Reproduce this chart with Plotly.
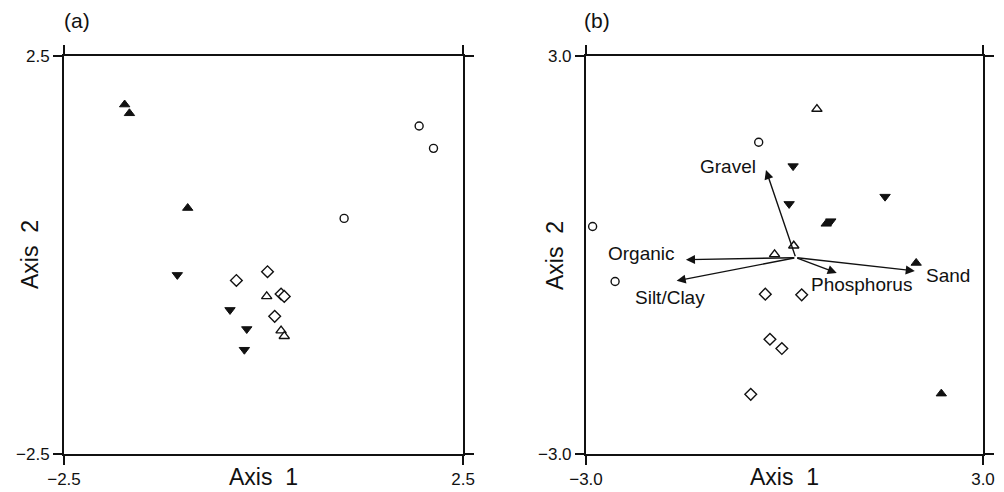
import plotly.graph_objects as go

# ---------------- Panel (a) data ----------------
a_up_filled_x = [-1.74, -1.68, -0.95]
a_up_filled_y = [1.89, 1.78, 0.59]
a_circle_x = [1.95, 2.13, 1.01]
a_circle_y = [1.62, 1.34, 0.46]
a_down_filled_x = [-1.08, -0.42, -0.21, -0.24]
a_down_filled_y = [-0.25, -0.69, -0.93, -1.19]
a_diamond_x = [-0.34, 0.05, 0.22, 0.26, 0.14]
a_diamond_y = [-0.32, -0.21, -0.49, -0.52, -0.77]
a_up_open_x = [0.04, 0.22, 0.26]
a_up_open_y = [-0.52, -0.95, -1.02]

# ---------------- Panel (b) data ----------------
b_up_open_x = [0.49, 0.14, -0.15]
b_up_open_y = [2.20, 0.14, 0.01]
b_circle_x = [-0.39, -2.90, -2.56]
b_circle_y = [1.70, 0.43, -0.40]
b_down_filled_x = [0.13, 0.07, 1.52, 0.70]
b_down_filled_y = [1.34, 0.77, 0.88, 0.51]
b_up_filled_x = [0.63, 1.99, 2.37]
b_up_filled_y = [0.47, -0.12, -2.09]
b_diamond_x = [-0.29, 0.26, -0.22, -0.04, -0.51]
b_diamond_y = [-0.59, -0.60, -1.27, -1.41, -2.10]

# environmental vectors (biplot arrows)
vec_names = ["Gravel", "Organic", "Silt/Clay", "Phosphorus", "Sand"]
vec_origin_x = 0.17
vec_origin_y = -0.04
vec_tip_x = [-0.28, -1.49, -1.63, 0.79, 1.97]
vec_tip_y = [1.28, -0.07, -0.39, -0.27, -0.24]

# axis ranges / tick labels
a_range = [-2.5, 2.5]
a_ticktext = ["\u22122.5", "2.5"]
b_range = [-3.0, 3.0]
b_ticktext = ["\u22123.0", "3.0"]

FONT = "Liberation Sans"
BLACK = "#111111"

fig = go.Figure()

def add_points(x, y, symbol, filled, size, xa, ya):
    fig.add_trace(go.Scatter(
        x=x, y=y, mode="markers", xaxis=xa, yaxis=ya, showlegend=False,
        marker=dict(symbol=symbol, size=size,
                    color=BLACK if filled else "white",
                    line=dict(color=BLACK, width=1.0 if filled else 1.4)),
        hoverinfo="skip"))

# panel a
add_points(a_up_filled_x, a_up_filled_y, "triangle-up", True, 9, "x", "y")
add_points(a_circle_x, a_circle_y, "circle", False, 8, "x", "y")
add_points(a_down_filled_x, a_down_filled_y, "triangle-down", True, 9, "x", "y")
add_points(a_diamond_x, a_diamond_y, "diamond", False, 9, "x", "y")
add_points(a_up_open_x, a_up_open_y, "triangle-up", False, 9, "x", "y")

# panel b
add_points(b_up_open_x, b_up_open_y, "triangle-up", False, 9, "x2", "y2")
add_points(b_circle_x, b_circle_y, "circle", False, 8, "x2", "y2")
add_points(b_down_filled_x, b_down_filled_y, "triangle-down", True, 9, "x2", "y2")
add_points(b_up_filled_x, b_up_filled_y, "triangle-up", True, 9, "x2", "y2")
add_points(b_diamond_x, b_diamond_y, "diamond", False, 9, "x2", "y2")

annotations = []
# arrows
for tx, ty in zip(vec_tip_x, vec_tip_y):
    annotations.append(dict(
        x=tx, y=ty, ax=vec_origin_x, ay=vec_origin_y,
        xref="x2", yref="y2", axref="x2", ayref="y2",
        text="", showarrow=True, arrowhead=2, arrowsize=1.3,
        arrowwidth=1.4, arrowcolor=BLACK, standoff=0))

# label placement (pixel offsets from the arrow tips)
label_style = {
    "Gravel": dict(xanchor="right", xshift=-8, yshift=4),
    "Organic": dict(xanchor="right", xshift=-9, yshift=6),
    "Silt/Clay": dict(xanchor="center", xshift=-7, yshift=-17),
    "Phosphorus": dict(xanchor="left", xshift=-28, yshift=-12),
    "Sand": dict(xanchor="left", xshift=9, yshift=-5),
}
for name, tx, ty in zip(vec_names, vec_tip_x, vec_tip_y):
    st = label_style[name]
    annotations.append(dict(
        x=tx, y=ty, xref="x2", yref="y2", text=name, showarrow=False,
        xanchor=st["xanchor"], yanchor="middle", xshift=st["xshift"], yshift=st["yshift"],
        font=dict(family=FONT, size=19, color=BLACK)))

# axis titles and panel labels
for xa, ya, y2shift, panel, pshift in [("x", "y", -34, "(a)", -2),
                                       ("x2", "y2", -31, "(b)", -4)]:
    annotations.append(dict(
        x=0.5, y=0, xref=f"{xa} domain", yref=f"{ya} domain",
        text="Axis  1", showarrow=False, yanchor="middle", yshift=-23,
        font=dict(family=FONT, size=23, color=BLACK)))
    annotations.append(dict(
        x=0, y=0.5, xref=f"{xa} domain", yref=f"{ya} domain",
        text="Axis  2", showarrow=False, xanchor="center", xshift=y2shift,
        textangle=-90, font=dict(family=FONT, size=23, color=BLACK)))
    annotations.append(dict(
        x=0, y=1, xref=f"{xa} domain", yref=f"{ya} domain",
        text=panel, showarrow=False, xanchor="left", yanchor="middle",
        xshift=pshift, yshift=36,
        font=dict(family=FONT, size=21, color=BLACK)))

axis_common = dict(showgrid=False, zeroline=False, showline=True, linecolor=BLACK,
                   linewidth=2, mirror="allticks", ticks="outside", ticklen=9,
                   tickwidth=1.5, tickcolor=BLACK, automargin=False,
                   tickfont=dict(family=FONT, size=17, color=BLACK), fixedrange=True)

fig.update_layout(
    width=1004, height=492,
    margin=dict(l=64, r=21, t=56, b=38),
    paper_bgcolor="white", plot_bgcolor="white",
    xaxis=dict(domain=[0, 0.4342], range=a_range, tickvals=a_range, ticktext=a_ticktext,
               anchor="y", **axis_common),
    yaxis=dict(domain=[0, 1], range=a_range, tickvals=a_range, ticktext=a_ticktext,
               anchor="x", **axis_common),
    xaxis2=dict(domain=[0.568, 1], range=b_range, tickvals=b_range, ticktext=b_ticktext,
                anchor="y2", **axis_common),
    yaxis2=dict(domain=[0, 1], range=b_range, tickvals=b_range, ticktext=b_ticktext,
                anchor="x2", **axis_common),
    annotations=annotations,
    showlegend=False,
)

fig.write_html("out.html", config={"displayModeBar": False},
               post_script="document.body.style.margin='0';document.body.style.overflow='hidden';")
